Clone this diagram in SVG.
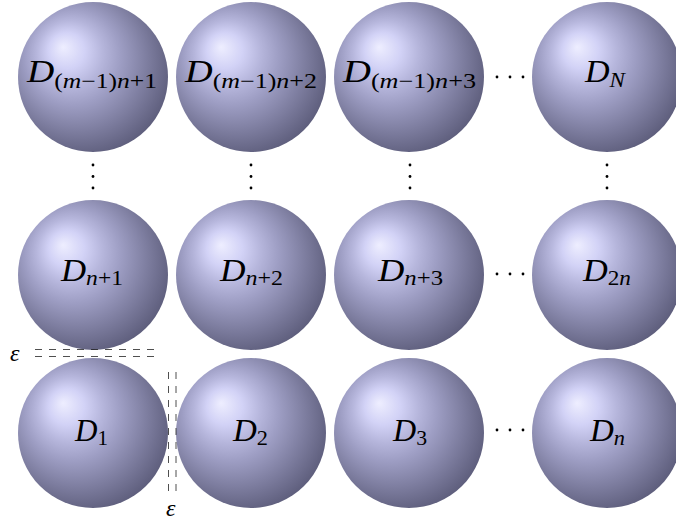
<svg xmlns="http://www.w3.org/2000/svg" width="676" height="521" viewBox="0 0 676 521">
<defs>
<radialGradient id="ball" cx="0.5" cy="0.5" r="1" fx="0.3" fy="0.3">
<stop offset="0" stop-color="#EEEEFF"/>
<stop offset="0.12" stop-color="#D2D2F6"/>
<stop offset="0.22" stop-color="#B6B6DC"/>
<stop offset="0.32" stop-color="#9E9EC4"/>
<stop offset="0.62" stop-color="#5C5C7A"/>
<stop offset="1" stop-color="#202030"/>
</radialGradient>
</defs>
<style>
.b{fill:url(#ball)}
.t{font-family:"Liberation Serif","Times New Roman",serif;font-size:31px;fill:#000}
.i{font-style:italic}
.s{font-size:21px}
.d{fill:#000}
.e{stroke:#222;stroke-width:0.8;stroke-dasharray:7 7;fill:none}
.eps{font-family:"Liberation Serif","Times New Roman",serif;font-size:24px;font-style:italic;fill:#000}
</style>
<rect width="676" height="521" fill="#fff"/>

<g id="n_top1"><circle class="b" cx="93" cy="77" r="75"/>
<text class="t" x="27" y="82" textLength="130" lengthAdjust="spacingAndGlyphs"><tspan class="i">D</tspan><tspan class="s" dy="6">(</tspan><tspan class="s i">m</tspan><tspan class="s">−1)</tspan><tspan class="s i">n</tspan><tspan class="s">+1</tspan></text></g>
<g id="n_top2"><circle class="b" cx="251" cy="77" r="75"/>
<text class="t" x="185" y="82" textLength="132" lengthAdjust="spacingAndGlyphs"><tspan class="i">D</tspan><tspan class="s" dy="6">(</tspan><tspan class="s i">m</tspan><tspan class="s">−1)</tspan><tspan class="s i">n</tspan><tspan class="s">+2</tspan></text></g>
<g id="n_top3"><circle class="b" cx="409" cy="77" r="75"/>
<text class="t" x="343" y="82" textLength="133" lengthAdjust="spacingAndGlyphs"><tspan class="i">D</tspan><tspan class="s" dy="6">(</tspan><tspan class="s i">m</tspan><tspan class="s">−1)</tspan><tspan class="s i">n</tspan><tspan class="s">+3</tspan></text></g>
<g id="n_N"><circle class="b" cx="607" cy="77" r="75"/>
<text class="t" x="585" y="82" textLength="40" lengthAdjust="spacingAndGlyphs"><tspan class="i">D</tspan><tspan class="s i" dy="5">N</tspan></text></g>

<g id="n_n1"><circle class="b" cx="93" cy="275" r="75"/>
<text class="t" x="61" y="281" textLength="62" lengthAdjust="spacingAndGlyphs"><tspan class="i">D</tspan><tspan class="s i" dy="4">n</tspan><tspan class="s">+1</tspan></text></g>
<g id="n_n2"><circle class="b" cx="251" cy="275" r="75"/>
<text class="t" x="220" y="281" textLength="63" lengthAdjust="spacingAndGlyphs"><tspan class="i">D</tspan><tspan class="s i" dy="4">n</tspan><tspan class="s">+2</tspan></text></g>
<g id="n_n3"><circle class="b" cx="409" cy="275" r="75"/>
<text class="t" x="378" y="281" textLength="65" lengthAdjust="spacingAndGlyphs"><tspan class="i">D</tspan><tspan class="s i" dy="4">n</tspan><tspan class="s">+3</tspan></text></g>
<g id="n_2n"><circle class="b" cx="607" cy="275" r="75"/>
<text class="t" x="583" y="281" textLength="48" lengthAdjust="spacingAndGlyphs"><tspan class="i">D</tspan><tspan class="s" dy="4">2</tspan><tspan class="s i">n</tspan></text></g>

<g id="n_1"><circle class="b" cx="93" cy="433" r="75"/>
<text class="t" x="75" y="441" textLength="33" lengthAdjust="spacingAndGlyphs"><tspan class="i">D</tspan><tspan class="s" dy="4">1</tspan></text></g>
<g id="n_2"><circle class="b" cx="251" cy="433" r="75"/>
<text class="t" x="233" y="441" textLength="35" lengthAdjust="spacingAndGlyphs"><tspan class="i">D</tspan><tspan class="s" dy="4">2</tspan></text></g>
<g id="n_3"><circle class="b" cx="409" cy="433" r="75"/>
<text class="t" x="393" y="441" textLength="34" lengthAdjust="spacingAndGlyphs"><tspan class="i">D</tspan><tspan class="s" dy="4">3</tspan></text></g>
<g id="n_n"><circle class="b" cx="607" cy="433" r="75"/>
<text class="t" x="590" y="441" textLength="35" lengthAdjust="spacingAndGlyphs"><tspan class="i">D</tspan><tspan class="s i" dy="4">n</tspan></text></g>

<g id="dots">
<circle class="d" cx="497" cy="77" r="1.4"/><circle class="d" cx="510" cy="77" r="1.4"/><circle class="d" cx="523" cy="77" r="1.4"/>
<circle class="d" cx="497" cy="274" r="1.4"/><circle class="d" cx="510" cy="274" r="1.4"/><circle class="d" cx="523" cy="274" r="1.4"/>
<circle class="d" cx="497" cy="430" r="1.4"/><circle class="d" cx="510" cy="430" r="1.4"/><circle class="d" cx="523" cy="430" r="1.4"/>
<circle class="d" cx="93" cy="165" r="1.4"/><circle class="d" cx="93" cy="176.5" r="1.4"/><circle class="d" cx="93" cy="188" r="1.4"/>
<circle class="d" cx="251" cy="165" r="1.4"/><circle class="d" cx="251" cy="176.5" r="1.4"/><circle class="d" cx="251" cy="188" r="1.4"/>
<circle class="d" cx="410" cy="165" r="1.4"/><circle class="d" cx="410" cy="176.5" r="1.4"/><circle class="d" cx="410" cy="188" r="1.4"/>
<circle class="d" cx="607" cy="165" r="1.4"/><circle class="d" cx="607" cy="176.5" r="1.4"/><circle class="d" cx="607" cy="188" r="1.4"/>
</g>

<g id="connectors">
<line class="e" x1="35" y1="349.5" x2="154" y2="349.5"/>
<line class="e" x1="35" y1="356.5" x2="154" y2="356.5"/>
<line class="e" x1="168.5" y1="372" x2="168.5" y2="493"/>
<line class="e" x1="176" y1="372" x2="176" y2="493"/>
<text class="eps" x="10" y="361">ε</text>
<text class="eps" x="166" y="516">ε</text>
</g>
</svg>
